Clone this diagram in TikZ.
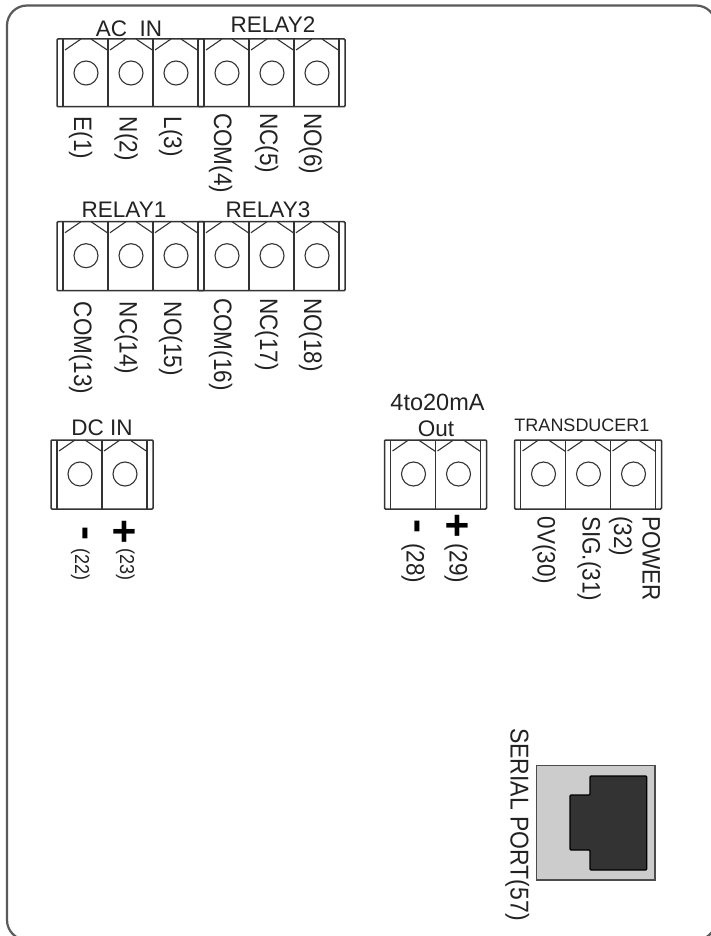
\documentclass[tikz,border=0pt]{standalone}
\usepackage{fontspec}
\setmainfont{Liberation Sans}
\newcommand{\tblock}[5]{% name, left, top, cells, height
  \begin{scope}[shift={(#2,#3)},line width=1.5pt,draw=linec]
    \draw[rounded corners=1pt] (0,0) rectangle ({12+45*#4},#5);
    \draw (6,0) -- (6,#5);
    \draw ({6+45*#4},0) -- ({6+45*#4},#5);
    \foreach \cn in {1,...,#4}{
      \pgfmathsetmacro{\sx}{6+45*(\cn-1)}
      \ifnum\cn>1 \draw (\sx,0) -- (\sx,#5);\fi
      \draw[line width=1.1pt] (\sx+2,11) -- (\sx+18,0);
      \draw[line width=1.1pt] (\sx+28,0) -- (\sx+45,11.5);
      \node[termhole] (#1\cn) at (\sx+23,34) {};
    }
  \end{scope}}
\newcommand{\vlabel}[5][22.5]{% size, name, x centre, top, text
  \node[vtext] (#2) at (#3-7.5,#4) {\scalebox{1}[1.12]{\fontsize{#1}{#1}\selectfont #5}};}
\newcommand{\htitle}[5][22.5]{% size, name, x centre, baseline, text
  \node[htext] (#2) at (#3,#4) {\fontsize{#1}{#1}\selectfont #5};}
\definecolor{linec}{HTML}{333333}
\definecolor{textc}{HTML}{222222}
\tikzset{
  termhole/.style={circle,draw=linec,line width=1.1pt,minimum size=24pt,inner sep=0pt},
  vtext/.style={rotate=-90,anchor=base west,inner sep=0pt,text=textc},
  htext/.style={anchor=base,inner sep=0pt,text=textc},
  signmark/.style={rotate=-90,anchor=center,inner sep=0pt,text=black,font=\bfseries\fontsize{42}{42}\selectfont},
}
\begin{document}
\begin{tikzpicture}[x=1pt,y=-1pt]
\useasboundingbox (0,0) rectangle (711,936);
\clip (0,0) rectangle (711,936);
\fill[white] (0,0) rectangle (711,936);
\draw[line width=2.2pt,draw=black!65,rounded corners=20pt] (7,5.5) rectangle (716,940);

\tblock{a}{57}{39}{3}{67.7}
\tblock{b}{198}{39}{3}{67.7}
\tblock{c}{57}{221.7}{3}{69}
\tblock{d}{198}{221.7}{3}{69}
\tblock{e}{51}{440}{2}{69}
\tblock{f}{384.5}{440}{2}{69}
\tblock{g}{514.5}{440}{3}{69}

\htitle{tacin}{129}{36.5}{AC\ \ IN}
\htitle{trelayb}{273}{33}{RELAY2}
\htitle{trelaya}{124}{217}{RELAY1}
\htitle{trelayc}{268}{217}{RELAY3}
\htitle{tdcin}{102}{435}{DC IN}
\htitle[23.5]{tma}{437.5}{410}{4to20mA}
\htitle{tout}{436}{436}{Out}
\htitle[18]{ttrans}{582}{431}{TRANSDUCER1}

\vlabel{l1}{81.7}{116.7}{E(1)}
\vlabel{l2}{127}{116.7}{N(2)}
\vlabel{l3}{171.7}{116.7}{L(3)}
\vlabel{l4}{221.7}{113}{COM(4)}
\vlabel{l5}{267.7}{113}{NC(5)}
\vlabel{l6}{311.7}{113}{NO(6)}
\vlabel{l13}{81.7}{301.7}{COM(13)}
\vlabel{l14}{127}{301.7}{NC(14)}
\vlabel{l15}{171.7}{301.7}{NO(15)}
\vlabel{l16}{221.7}{298}{COM(16)}
\vlabel{l17}{267.7}{298}{NC(17)}
\vlabel{l18}{311.7}{298}{NO(18)}

\node[signmark] (m22) at (81,533) {-};
\node[signmark] (p23) at (123,532) {+};
\vlabel[18]{l22}{82.5}{548}{(22)}
\vlabel[18]{l23}{127.5}{548}{(23)}
\node[signmark] (m28) at (413,526) {-};
\node[signmark] (p29) at (456,526) {+};
\vlabel{l28}{414}{543}{(28)}
\vlabel{l29}{457}{543}{(29)}
\vlabel{l30}{545}{516.7}{0V(30)}
\vlabel{l31}{590}{516}{SIG.(31)}
\vlabel{l32}{621.7}{516}{(32)}
\vlabel{lpow}{650}{516}{POWER}
\vlabel[23]{lser}{518}{728}{SERIAL PORT(57)}

\draw[line width=1.3pt,draw=black!70,fill=black!20] (536.7,765.7) rectangle (655,880);
\draw[line width=1.3pt,draw=black,fill=black!80,rounded corners=1pt]
  (590,776) -- (646.7,776) -- (646.7,870) -- (590,870) -- (590,850) -- (570,850) -- (570,795) -- (590,795) -- cycle;
\end{tikzpicture}
\end{document}
